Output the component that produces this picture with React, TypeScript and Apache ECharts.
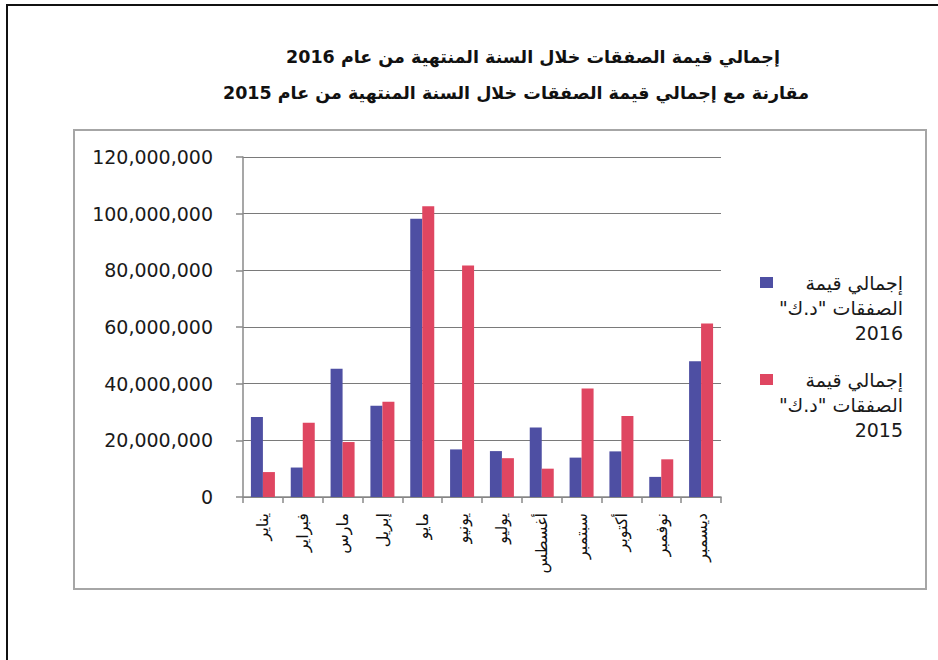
import React, { useEffect, useRef } from 'react';
import * as echarts from 'echarts';

const months = ['يناير', 'فبراير', 'مارس', 'إبريل', 'مايو', 'يونيو', 'يوليو', 'أغسطس', 'سبتمبر', 'أكتوبر', 'نوفمبر', 'ديسمبر'];
const values2016 = [28200000, 10400000, 45300000, 32200000, 98200000, 16800000, 16200000, 24500000, 13900000, 16100000, 7100000, 47900000];
const values2015 = [8800000, 26200000, 19400000, 33600000, 102600000, 81700000, 13700000, 10000000, 38300000, 28600000, 13300000, 61200000];
const titleLines = [
  'إجمالي قيمة الصفقات خلال السنة المنتهية من عام 2016',
  'مقارنة مع إجمالي قيمة الصفقات خلال السنة المنتهية من عام 2015',
];
const seriesNames = ['إجمالي قيمة الصفقات "د.ك" 2016', 'إجمالي قيمة الصفقات "د.ك" 2015'];
const legendLines = [
  ['إجمالي قيمة', '\u200Fالصفقات "د.ك"\u200F', '2016'],
  ['إجمالي قيمة', '\u200Fالصفقات "د.ك"\u200F', '2015'],
];
const yMin = 0;
const yMax = 120000000;
const yStep = 20000000;

const FONT = 'DejaVu Sans';

export default function App() {
  const ref = useRef<HTMLDivElement>(null);
  useEffect(() => {
    if (!ref.current) return;
    const chart = echarts.init(ref.current, undefined, { renderer: 'svg' });
    chart.setOption({
      animation: false,
      backgroundColor: '#ffffff',
      title: [
        {
          text: titleLines[0], left: 528, top: 43, textAlign: 'center',
          textStyle: { fontFamily: FONT, fontSize: 17.5, fontWeight: 'bold', color: '#111' },
        },
        {
          text: titleLines[1], left: 511, top: 79, textAlign: 'center',
          textStyle: { fontFamily: FONT, fontSize: 17.5, fontWeight: 'bold', color: '#111' },
        },
      ],
      legend: {
        orient: 'vertical',
        left: 760,
        top: 270,
        padding: 0,
        itemWidth: 13,
        itemHeight: 75,
        itemGap: 22,
        icon: 'path://M0 0h0.01v0.01H0z M0 7h13v11H0z M0 74.99h0.01V75H0z',
        data: seriesNames,
        formatter: (name: string) => {
          const idx = seriesNames.indexOf(name);
          return legendLines[idx].map((l) => `{a|${l}}`).join('\n');
        },
        textStyle: {
          rich: {
            a: { width: 125, align: 'right', lineHeight: 25, fontSize: 19, fontFamily: FONT, color: '#1a1a1a' },
          },
        },
      },
      grid: { left: 243, right: 217, top: 157, bottom: 163, containLabel: false },
      xAxis: {
        type: 'category',
        data: months,
        axisLine: { lineStyle: { color: '#8a8a8a', width: 1.5 } },
        axisTick: { show: true, length: 6, lineStyle: { color: '#8a8a8a', width: 1.5 } },
        axisLabel: { rotate: 90, margin: 16, fontFamily: FONT, fontSize: 16, color: '#111', interval: 0 },
      },
      yAxis: {
        type: 'value',
        min: yMin,
        max: yMax,
        interval: yStep,
        axisLine: { show: true, lineStyle: { color: '#8a8a8a', width: 1.5 } },
        axisTick: { show: true, length: 7, lineStyle: { color: '#8a8a8a', width: 1.5 } },
        axisLabel: {
          margin: 30,
          fontFamily: FONT,
          fontSize: 19,
          color: '#1a1a1a',
          formatter: (v: number) => v.toLocaleString('en-US'),
        },
        splitLine: { lineStyle: { color: '#7a7a7a', width: 1.2 } },
      },
      series: [
        {
          name: seriesNames[0], type: 'bar', data: values2016, barWidth: 12, barGap: '0%',
          itemStyle: { color: '#4E4FA3' },
        },
        {
          name: seriesNames[1], type: 'bar', data: values2015, barWidth: 12, barGap: '0%',
          itemStyle: { color: '#DF4661' },
        },
      ],
      graphic: [
        { type: 'line', shape: { x1: 6, y1: 5, x2: 938, y2: 5 }, style: { stroke: '#111', lineWidth: 2 }, silent: true },
        { type: 'line', shape: { x1: 7, y1: 4, x2: 7, y2: 660 }, style: { stroke: '#111', lineWidth: 2 }, silent: true },
        {
          type: 'rect', shape: { x: 74, y: 130, width: 852, height: 459 },
          style: { stroke: '#a6a6a6', lineWidth: 2, fill: 'none' }, silent: true, z: -1,
        },
      ],
    });
    return () => chart.dispose();
  }, []);
  return <div ref={ref} style={{ position: 'absolute', left: 0, top: 0, width: 938, height: 660 }} />;
}
